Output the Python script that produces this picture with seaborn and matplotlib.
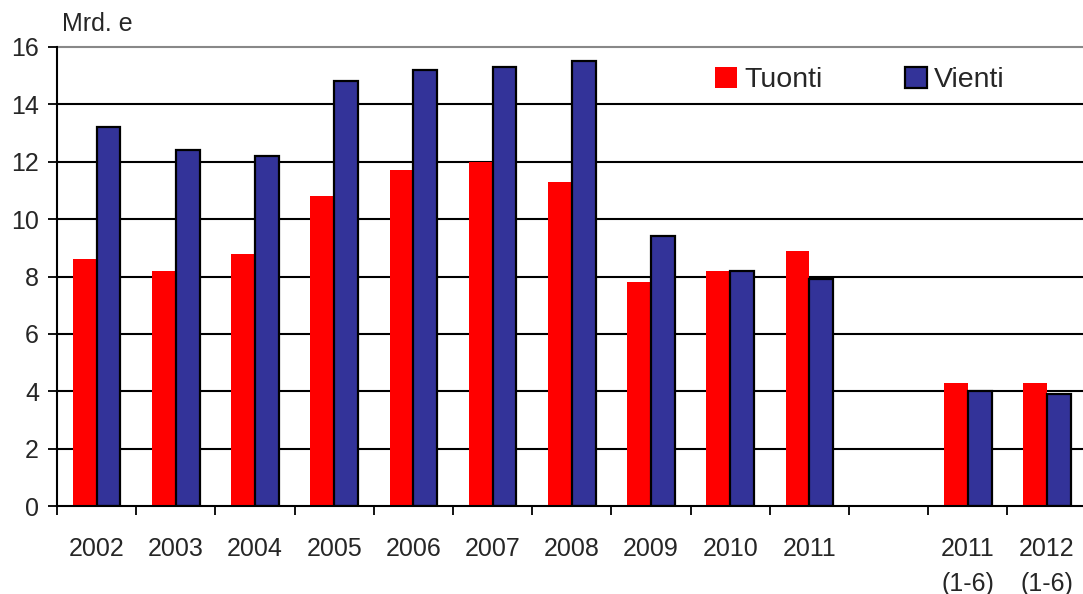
import matplotlib
matplotlib.use("Agg")
import matplotlib.pyplot as plt
import seaborn as sns
import pandas as pd
from matplotlib.patches import Patch
from matplotlib.ticker import FixedLocator

# Category slots along the x axis (one empty slot separates annual and half-year figures)
categories = ["2002", "2003", "2004", "2005", "2006", "2007", "2008",
              "2009", "2010", "2011", " ", "2011\n(1-6)", "2012\n(1-6)"]
data_categories = ["2002", "2003", "2004", "2005", "2006", "2007", "2008",
                   "2009", "2010", "2011", "2011\n(1-6)", "2012\n(1-6)"]
tuonti = [8.6, 8.2, 8.8, 10.8, 11.7, 12.0, 11.3, 7.8, 8.2, 8.9, 4.3, 4.3]
vienti = [13.2, 12.4, 12.2, 14.8, 15.2, 15.3, 15.5, 9.4, 8.2, 7.9, 4.0, 3.9]
series = ["Tuonti", "Vienti"]
colors = {"Tuonti": "#FF0000", "Vienti": "#333399"}
y_ticks = [0, 2, 4, 6, 8, 10, 12, 14, 16]

df = pd.DataFrame({
    "kausi": data_categories * 2,
    "sarja": [series[0]] * len(tuonti) + [series[1]] * len(vienti),
    "arvo": tuonti + vienti,
})

sns.set_theme(style="white")
plt.rcParams["font.family"] = ["Liberation Sans", "DejaVu Sans"]

W, H = 1083, 594
left_px = 57
fig = plt.figure(figsize=(W / 100, H / 100), dpi=100)
ax = fig.add_axes([left_px / W, 88 / H, (W - left_px) / W, 459 / H])

sns.barplot(data=df, x="kausi", y="arvo", hue="sarja", order=categories,
            hue_order=series, palette=colors, width=0.6, saturation=1,
            ax=ax, legend=False)

# Export bars get a black outline, import bars stay plain
for bar in ax.containers[1]:
    bar.set_edgecolor("black")
    bar.set_linewidth(1.6)
for bar in ax.containers[0]:
    bar.set_edgecolor("none")
    bar.set_linewidth(0)

slot_px = 79.2
ax.set_ylim(0, 16)
ax.set_xlim(-0.5, (W - left_px) / slot_px - 0.5)
ax.set_yticks(y_ticks)
ax.set_yticklabels([str(t) for t in y_ticks], fontsize=18)
ax.set_xticks(range(len(categories)))
ax.set_xticklabels(categories, fontsize=18, linespacing=1.6, va="top")
ax.tick_params(axis="x", which="major", length=0, pad=22)
ax.xaxis.set_minor_locator(FixedLocator([i - 0.5 for i in range(len(categories) + 1)]))
ax.tick_params(axis="x", which="minor", length=6.5, width=1.3, color="black",
               direction="out", bottom=True)
ax.tick_params(axis="y", length=6.5, width=1.3, color="black", direction="out",
               left=True, pad=6.5)

# Horizontal gridlines: black, the top one grey
for t in y_ticks[1:-1]:
    ax.axhline(t, color="black", linewidth=1.5, zorder=0.5)
ax.axhline(16, color="#888888", linewidth=1.5, zorder=0.5, clip_on=False)

for side in ["top", "right"]:
    ax.spines[side].set_visible(False)
for side in ["left", "bottom"]:
    ax.spines[side].set_color("black")
    ax.spines[side].set_linewidth(1.5)
ax.set_xlabel("")
ax.set_ylabel("")

fig.text(62 / W, 1 - 24 / H, "Mrd. e", fontsize=18, va="center", ha="left")

handles = [Patch(facecolor=colors["Tuonti"], edgecolor="none"),
           Patch(facecolor=colors["Vienti"], edgecolor="black", linewidth=1.6)]
ax.legend(handles, series, ncol=2, frameon=False, fontsize=20.5,
          loc="center left", bbox_to_anchor=(715 / W, 1 - 80 / H),
          bbox_transform=fig.transFigure, handlelength=0.77, handleheight=0.77,
          handletextpad=0.25, columnspacing=2.9, borderaxespad=0, borderpad=0)

fig.savefig("out.png", dpi=100)
